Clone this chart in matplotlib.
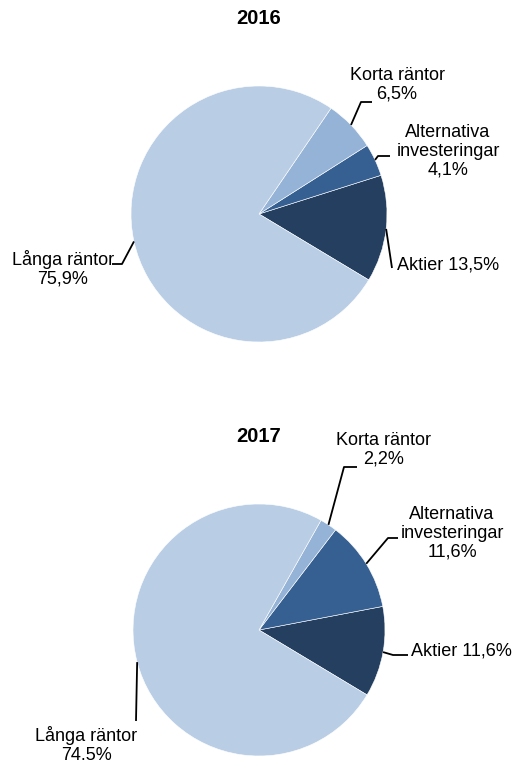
import numpy as np
import matplotlib.pyplot as plt

plt.rcParams['font.family'] = ['Liberation Sans', 'DejaVu Sans']

W, H = 519, 760

categories = ["Aktier", "Alternativa\ninvesteringar", "Korta räntor", "Långa räntor"]
years = ["2016", "2017"]
shares_2016 = [13.5, 4.1, 6.5, 75.9]
shares_2017 = [11.6, 11.6, 2.2, 74.5]
colors = ["#243F60", "#366092", "#95B3D7", "#B9CDE5"]

# layout in pixel coords (y from top)
pies = [
    dict(title="2016", data=shares_2016, center=(259, 214), r=128, title_y=18,
         # elbow points + text anchors per category
         lab=[
             dict(path=[(392, 268)], text=(397, 265), ha="left", inline=True),
             dict(path=[(378, 156), (390, 156)], text=(448, 151), ha="center"),
             dict(path=[(361, 102), (372, 102)], text=(397, 85), ha="center"),
             dict(path=[(122, 264), (112, 264)], text=(63, 269), ha="center"),
         ]),
    dict(title="2017", data=shares_2017, center=(259, 630), r=126, title_y=437,
         lab=[
             dict(path=[(393, 655), (408, 655)], text=(411, 651), ha="left", inline=True),
             dict(path=[(388, 538), (398, 538)], text=(452, 533), ha="center"),
             dict(path=[(344, 467), (357, 467)], text=(384, 450), ha="center"),
             dict(path=[(136, 721)], text=(86, 745), ha="center"),
         ]),
]


def fy(y):
    return H - y


def fmt(v):
    return f"{v:.1f}".replace(".", ",") + "%"


fig = plt.figure(figsize=(W / 100, H / 100), dpi=100)
ax = fig.add_axes([0, 0, 1, 1])

for p in pies:
    cx, cy = p["center"]
    wedges, _ = ax.pie(p["data"], colors=colors, startangle=-31, counterclock=True,
                       center=(cx, fy(cy)), radius=p["r"],
                       wedgeprops=dict(edgecolor="white", linewidth=0.4))
    ax.text(cx, fy(p["title_y"]), p["title"], ha="center", va="center",
            fontsize=14.5, fontweight="bold")
    for w, name, val, lab in zip(wedges, categories, p["data"], p["lab"]):
        mid = np.deg2rad((w.theta1 + w.theta2) / 2)
        ex = cx + p["r"] * np.cos(mid)
        ey = fy(cy) + p["r"] * np.sin(mid)
        xs = [ex] + [q[0] for q in lab["path"]]
        ys = [ey] + [fy(q[1]) for q in lab["path"]]
        ax.plot(xs, ys, color="black", linewidth=1.3, solid_capstyle="butt")
        if lab.get("inline"):
            txt = f"{name} {fmt(val)}"
        else:
            txt = f"{name}\n{fmt(val)}"
        tx, ty = lab["text"]
        ax.text(tx, fy(ty), txt, ha=lab["ha"], va="center", fontsize=13,
                linespacing=1.15, multialignment="center")

ax.set_xlim(0, W)
ax.set_ylim(0, H)
ax.set_aspect("auto")
ax.axis("off")

fig.savefig("out.png", dpi=100)
